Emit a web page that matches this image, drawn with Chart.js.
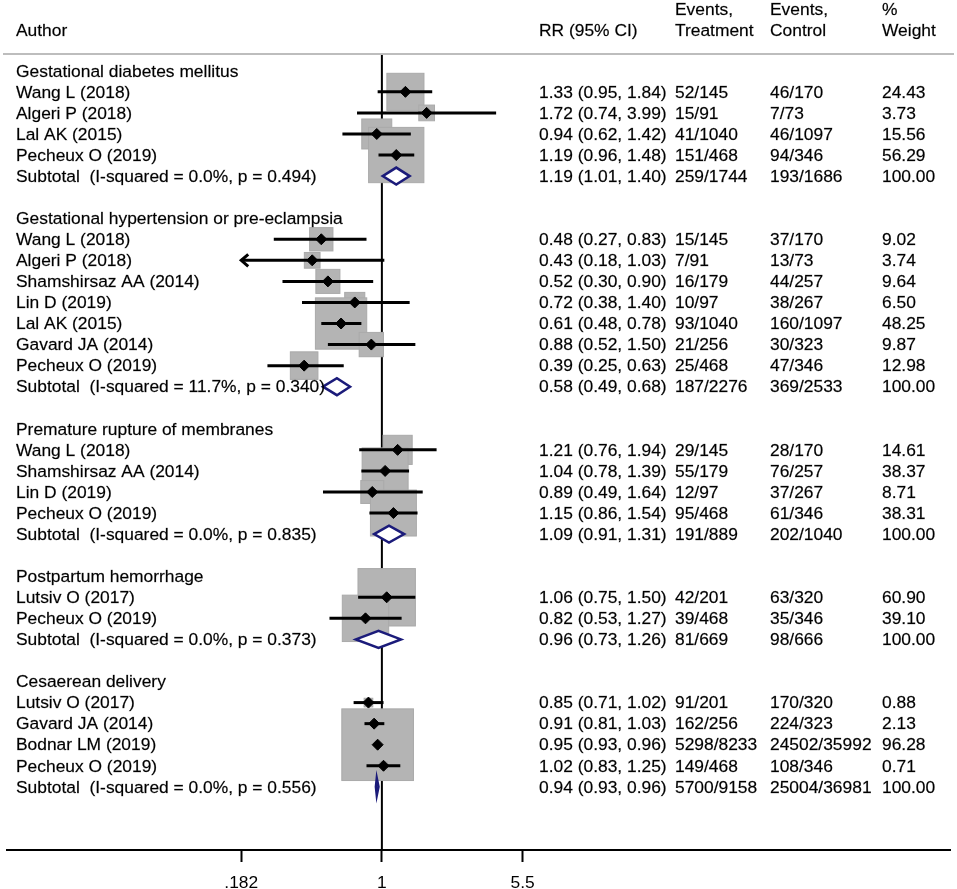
<!DOCTYPE html>
<html>
<head>
<meta charset="utf-8">
<title>Forest plot</title>
<script src="https://cdn.jsdelivr.net/npm/chart.js@4.4.1/dist/chart.umd.min.js"></script>
<style>
  html, body { margin: 0; padding: 0; background: #fff; }
  #wrap { width: 957px; height: 889px; }
</style>
</head>
<body>
<div id="wrap"><canvas id="forest" width="957" height="889"></canvas></div>
<script>
// =============================================================================
// DATA
// =============================================================================

const groupNames = [
  'Gestational diabetes mellitus',
  'Gestational hypertension or pre-eclampsia',
  'Premature rupture of membranes',
  'Postpartum hemorrhage',
  'Cesaerean delivery'
];

const studyGroup = [0, 0, 0, 0, 1, 1, 1, 1, 1, 1, 1, 2, 2, 2, 2, 3, 3, 4, 4, 4, 4];
const studyAuthors = [
  'Wang L (2018)', 'Algeri P (2018)', 'Lal AK (2015)', 'Pecheux O (2019)',
  'Wang L (2018)', 'Algeri P (2018)', 'Shamshirsaz AA (2014)', 'Lin D (2019)',
  'Lal AK (2015)', 'Gavard JA (2014)', 'Pecheux O (2019)',
  'Wang L (2018)', 'Shamshirsaz AA (2014)', 'Lin D (2019)', 'Pecheux O (2019)',
  'Lutsiv O (2017)', 'Pecheux O (2019)',
  'Lutsiv O (2017)', 'Gavard JA (2014)', 'Bodnar LM (2019)', 'Pecheux O (2019)'
];
const studyRR = [1.33, 1.72, 0.94, 1.19, 0.48, 0.43, 0.52, 0.72, 0.61, 0.88, 0.39,
                 1.21, 1.04, 0.89, 1.15, 1.06, 0.82, 0.85, 0.91, 0.95, 1.02];
const studyLower = [0.95, 0.74, 0.62, 0.96, 0.27, 0.18, 0.30, 0.38, 0.48, 0.52, 0.25,
                    0.76, 0.78, 0.49, 0.86, 0.75, 0.53, 0.71, 0.81, 0.93, 0.83];
const studyUpper = [1.84, 3.99, 1.42, 1.48, 0.83, 1.03, 0.90, 1.40, 0.78, 1.50, 0.63,
                    1.94, 1.39, 1.64, 1.54, 1.50, 1.27, 1.02, 1.03, 0.96, 1.25];
const studyEventsT = ['52/145', '15/91', '41/1040', '151/468',
                      '15/145', '7/91', '16/179', '10/97', '93/1040', '21/256', '25/468',
                      '29/145', '55/179', '12/97', '95/468',
                      '42/201', '39/468',
                      '91/201', '162/256', '5298/8233', '149/468'];
const studyEventsC = ['46/170', '7/73', '46/1097', '94/346',
                      '37/170', '13/73', '44/257', '38/267', '160/1097', '30/323', '47/346',
                      '28/170', '76/257', '37/267', '61/346',
                      '63/320', '35/346',
                      '170/320', '224/323', '24502/35992', '108/346'];
const studyWeight = [24.43, 3.73, 15.56, 56.29,
                     9.02, 3.74, 9.64, 6.50, 48.25, 9.87, 12.98,
                     14.61, 38.37, 8.71, 38.31,
                     60.90, 39.10,
                     0.88, 2.13, 96.28, 0.71];

const subRR = [1.19, 0.58, 1.09, 0.96, 0.94];
const subLower = [1.01, 0.49, 0.91, 0.73, 0.93];
const subUpper = [1.40, 0.68, 1.31, 1.26, 0.96];
const subEventsT = ['259/1744', '187/2276', '191/889', '81/669', '5700/9158'];
const subEventsC = ['193/1686', '369/2533', '202/1040', '98/666', '25004/36981'];
const subI2 = [0.0, 11.7, 0.0, 0.0, 0.0];
const subP = [0.494, 0.340, 0.835, 0.373, 0.556];

const axisTicks = [0.182, 1, 5.5];
const axisTickLabels = ['.182', '1', '5.5'];

// =============================================================================
// LAYOUT HELPERS
// =============================================================================

const FONT_FAMILY = '"Liberation Sans", Arial, sans-serif';
const FONT = '17.4px ' + FONT_FAMILY;
const COL = { author: 16, rr: 539, evT: 675, evC: 770, weight: 882 };
const BOX_COLOR = '#b4b4b4';
const NAVY = '#1b1b7a';

// row index of every line in the table (header, studies, subtotal, blank)
let rowCursor = 0;
const groupRow = [];
const studyRow = [];
const subRow = [];
groupNames.forEach((name, gi) => {
  groupRow.push(rowCursor++);
  studyGroup.forEach((g, si) => {
    if (g === gi) studyRow[si] = rowCursor++;
  });
  subRow.push(rowCursor);
  rowCursor += 2;
});

const plotMin = axisTicks[0];
const plotMax = axisTicks[axisTicks.length - 1];

const fmtCI = (rr, lo, hi) => `${rr.toFixed(2)} (${lo.toFixed(2)}, ${hi.toFixed(2)})`;

// text drawn a touch heavier, like the exported graph
function putText(ctx, str, x, y) {
  ctx.fillText(str, x, y + 1);
  ctx.strokeText(str, x, y + 1);
}

// =============================================================================
// CUSTOM DRAWING
// =============================================================================

const forestPlugin = {
  id: 'forest',
  beforeDatasetsDraw(chart) {
    const { ctx, chartArea } = chart;
    const xs = chart.scales.x;
    const ys = chart.scales.y;
    ctx.save();

    // line of no effect
    const x1 = xs.getPixelForValue(1);
    ctx.strokeStyle = '#000';
    ctx.lineWidth = 2;
    ctx.beginPath();
    ctx.moveTo(x1, chartArea.top);
    ctx.lineTo(x1, chartArea.bottom);
    ctx.stroke();

    // weight boxes
    studyRR.forEach((rr, i) => {
      const side = 2 + 7.1 * Math.sqrt(studyWeight[i]);
      const cx = xs.getPixelForValue(rr);
      const cy = ys.getPixelForValue(studyRow[i]);
      ctx.fillStyle = BOX_COLOR;
      ctx.fillRect(cx - side / 2, cy - side / 2, side, side);
      ctx.strokeStyle = '#aaaaaa';
      ctx.lineWidth = 1;
      ctx.strokeRect(cx - side / 2, cy - side / 2, side, side);
    });

    // confidence intervals
    ctx.strokeStyle = '#000';
    ctx.lineWidth = 3;
    studyRR.forEach((rr, i) => {
      const lo = studyLower[i];
      const hi = studyUpper[i];
      const y = ys.getPixelForValue(studyRow[i]);
      const xa = xs.getPixelForValue(Math.max(lo, plotMin));
      const xb = xs.getPixelForValue(Math.min(hi, plotMax));
      ctx.beginPath();
      ctx.moveTo(xa, y);
      ctx.lineTo(xb, y);
      ctx.stroke();
      if (lo < plotMin) {
        ctx.beginPath();
        ctx.moveTo(xa + 7, y - 6);
        ctx.lineTo(xa, y);
        ctx.lineTo(xa + 7, y + 6);
        ctx.stroke();
      }
      if (hi > plotMax) {
        ctx.beginPath();
        ctx.moveTo(xb - 7, y - 6);
        ctx.lineTo(xb, y);
        ctx.lineTo(xb - 7, y + 6);
        ctx.stroke();
      }
    });
    ctx.restore();
  },
  afterDatasetsDraw(chart) {
    const { ctx } = chart;
    const xs = chart.scales.x;
    const ys = chart.scales.y;
    ctx.save();
    // pooled estimates
    subRR.forEach((rr, gi) => {
      const y = ys.getPixelForValue(subRow[gi]);
      const xl = xs.getPixelForValue(subLower[gi]);
      const xr = xs.getPixelForValue(subUpper[gi]);
      const xc = xs.getPixelForValue(rr);
      ctx.beginPath();
      ctx.moveTo(xl, y);
      ctx.lineTo(xc, y - 8.5);
      ctx.lineTo(xr, y);
      ctx.lineTo(xc, y + 8.5);
      ctx.closePath();
      ctx.fillStyle = '#fff';
      ctx.fill();
      ctx.strokeStyle = NAVY;
      ctx.lineWidth = 2.5;
      ctx.stroke();
    });
    ctx.restore();
  },
  afterDraw(chart) {
    const { ctx } = chart;
    const ys = chart.scales.y;
    ctx.save();

    ctx.strokeStyle = '#bdbdbd';
    ctx.lineWidth = 2;
    ctx.beginPath();
    ctx.moveTo(3, 54);
    ctx.lineTo(954, 54);
    ctx.stroke();

    ctx.font = FONT;
    ctx.fillStyle = '#000';
    ctx.strokeStyle = 'rgba(0,0,0,0.55)';
    ctx.lineWidth = 0.35;
    ctx.textBaseline = 'middle';
    ctx.textAlign = 'left';

    // column headers
    putText(ctx, 'Author', COL.author, 30);
    putText(ctx, 'RR (95% CI)', COL.rr, 30);
    putText(ctx, 'Events,', COL.evT, 9);
    putText(ctx, 'Treatment', COL.evT, 30);
    putText(ctx, 'Events,', COL.evC, 9);
    putText(ctx, 'Control', COL.evC, 30);
    putText(ctx, '%', COL.weight, 9);
    putText(ctx, 'Weight', COL.weight, 30);

    groupNames.forEach((name, gi) => {
      putText(ctx, name, COL.author, ys.getPixelForValue(groupRow[gi]));
    });

    studyAuthors.forEach((author, i) => {
      const y = ys.getPixelForValue(studyRow[i]);
      putText(ctx, author, COL.author, y);
      putText(ctx, fmtCI(studyRR[i], studyLower[i], studyUpper[i]), COL.rr, y);
      putText(ctx, studyEventsT[i], COL.evT, y);
      putText(ctx, studyEventsC[i], COL.evC, y);
      putText(ctx, studyWeight[i].toFixed(2), COL.weight, y);
    });

    subRR.forEach((rr, gi) => {
      const y = ys.getPixelForValue(subRow[gi]);
      const label = `Subtotal  (I-squared = ${subI2[gi].toFixed(1)}%, p = ${subP[gi].toFixed(3)})`;
      putText(ctx, label, COL.author, y);
      putText(ctx, fmtCI(rr, subLower[gi], subUpper[gi]), COL.rr, y);
      putText(ctx, subEventsT[gi], COL.evT, y);
      putText(ctx, subEventsC[gi], COL.evC, y);
      putText(ctx, (100).toFixed(2), COL.weight, y);
    });
    ctx.restore();
  }
};

// =============================================================================
// CHART
// =============================================================================

const ctx = document.getElementById('forest').getContext('2d');

new Chart(ctx, {
  type: 'scatter',
  data: {
    datasets: [{
      data: studyRR.map((rr, i) => ({ x: rr, y: studyRow[i] })),
      pointStyle: 'rectRot',
      pointRadius: 5.5,
      pointHoverRadius: 5.5,
      backgroundColor: '#000',
      borderColor: '#000',
      borderWidth: 1
    }]
  },
  options: {
    responsive: false,
    animation: false,
    events: [],
    layout: { padding: { top: 55, left: 1, right: 3, bottom: 0 } },
    plugins: {
      legend: { display: false },
      tooltip: { enabled: false }
    },
    scales: {
      x: {
        type: 'logarithmic',
        min: 0.0106,
        max: 980,
        afterBuildTicks: (scale) => {
          scale.ticks = axisTicks.map(v => ({ value: v }));
        },
        afterFit: (scale) => { scale.height = 39; },
        grid: {
          drawOnChartArea: false,
          drawTicks: true,
          tickLength: 12,
          tickWidth: 2,
          tickColor: '#000'
        },
        border: { display: true, color: '#000', width: 2 },
        ticks: {
          autoSkip: false,
          maxRotation: 0,
          padding: 11,
          color: '#000',
          font: { family: FONT_FAMILY, size: 17.4 },
          callback: (val, idx) => axisTickLabels[idx]
        }
      },
      y: {
        type: 'linear',
        display: false,
        reverse: true,
        min: -0.75,
        max: 37
      }
    }
  },
  plugins: [forestPlugin]
});
</script>
</body>
</html>
